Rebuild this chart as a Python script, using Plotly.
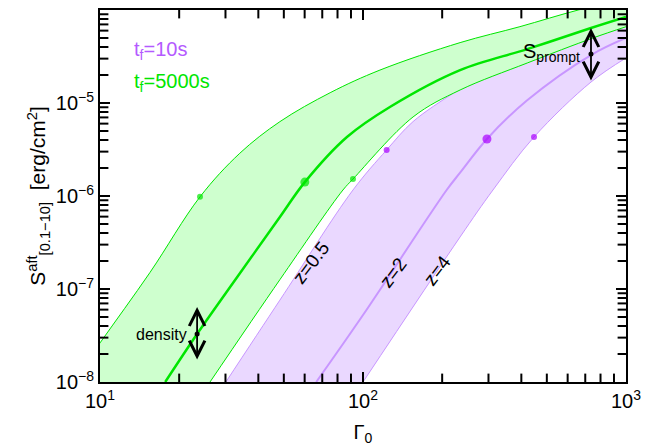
import numpy as np
import plotly.graph_objects as go

# ---- data ----
g_up_x = [7.1, 10, 15.5, 24.0, 34.0, 48.3, 75.0, 116, 234, 395, 658, 1000]
g_up_y = [6.6e-9, 2.63e-8, 1.51e-7, 9.8e-7, 2.88e-6, 6.3e-6, 1.29e-5, 2.26e-5, 4.46e-5, 6.62e-5, 1.0e-4, 1.32e-4]
g_mid_x = [17.7, 23.4, 33.1, 48.3, 60.1, 86.9, 127, 234, 421, 736, 1000]
g_mid_y = [1.0e-8, 3.28e-8, 1.32e-7, 5.94e-7, 1.41e-6, 4.31e-6, 9.12e-6, 2.26e-5, 3.80e-5, 6.40e-5, 8.41e-5]
g_lo_x = [26.2, 48.3, 83.9, 91.6, 155, 234, 421, 750, 1000]
g_lo_y = [1.0e-8, 1.26e-7, 1.16e-6, 1.52e-6, 7.08e-6, 1.38e-5, 2.69e-5, 5.01e-5, 6.61e-5]

p_up_x = [30.1, 48.3, 91.6, 123, 155, 224, 316, 427, 1000]
p_up_y = [1.0e-8, 7.59e-8, 1.16e-6, 3.13e-6, 6.31e-6, 1.32e-5, 2.51e-5, 3.80e-5, 7.59e-5]
p_mid_x = [66.4, 100, 208, 234, 296, 421, 736, 1000]
p_mid_y = [1.0e-8, 5.25e-8, 1.16e-6, 1.78e-6, 4.10e-6, 1.07e-5, 3.28e-5, 5.01e-5]
p_lo_x = [100, 234, 312, 447, 736, 1000]
p_lo_y = [1.0e-8, 3.63e-7, 1.16e-6, 4.31e-6, 1.68e-5, 3.05e-5]

g_dot_x = [24.0, 60.1, 91.6]
g_dot_y = [9.8e-7, 1.41e-6, 1.52e-6]
p_dot_x = [123, 296, 447]
p_dot_y = [3.13e-6, 4.10e-6, 4.31e-6]
dot_sizes = [6, 9, 6]

density_x = 23.4
density_y = [6.4e-8, 3.28e-8, 1.68e-8]
prompt_x = 736
prompt_y = [6.4e-5, 3.36e-5, 1.68e-5]

z_labels = ["z=0.5", "z=2", "z=4"]
z_x = [63.4, 130, 191]
z_y = [1.95e-7, 1.52e-7, 1.6e-7]

x_tickvals = [10, 100, 1000]
x_ticktext = ["10<sup>1</sup>", "10<sup>2</sup>", "10<sup>3</sup>"]
y_tickvals = [1e-8, 1e-7, 1e-6, 1e-5, 1e-4]
y_ticktext = ["10<sup>−8</sup>", "10<sup>−7</sup>", "10<sup>−6</sup>", "10<sup>−5</sup>", "10<sup>−4</sup>"]
x_minor = [k * 10.0 ** d for d in (1, 2) for k in range(2, 10)]
y_minor = [k * 10.0 ** d for d in (-8, -7, -6, -5) for k in range(2, 10)]

# ---- styles ----
GREEN = "rgb(0,230,0)"
GREEN_FILL = "rgb(206,255,206)"
PURPLE = "rgb(200,150,255)"
PURPLE_FILL = "rgb(234,216,255)"
PURPLE_DOT = "rgb(170,0,255)"
PURPLE_TXT = "rgb(180,90,255)"
FONT = "Liberation Sans"
SM = 1.0
X_RANGE, Y_RANGE = [1, 3], [-8, -4]
MAJOR_LEN, MINOR_LEN = 10, 6

fig = go.Figure()
# purple band
fig.add_trace(go.Scatter(x=p_up_x, y=p_up_y, mode="lines", line=dict(color=PURPLE, width=1, shape="spline", smoothing=SM)))
fig.add_trace(go.Scatter(x=p_lo_x, y=p_lo_y, mode="lines", fill="tonexty", fillcolor=PURPLE_FILL,
                         line=dict(color=PURPLE, width=1, shape="spline", smoothing=SM)))
fig.add_trace(go.Scatter(x=p_mid_x, y=p_mid_y, mode="lines", line=dict(color=PURPLE, width=2, shape="spline", smoothing=SM)))
# green band
fig.add_trace(go.Scatter(x=g_up_x, y=g_up_y, mode="lines", line=dict(color=GREEN, width=1, shape="spline", smoothing=SM)))
fig.add_trace(go.Scatter(x=g_lo_x, y=g_lo_y, mode="lines", fill="tonexty", fillcolor=GREEN_FILL,
                         line=dict(color=GREEN, width=1, shape="spline", smoothing=SM)))
fig.add_trace(go.Scatter(x=g_mid_x, y=g_mid_y, mode="lines", line=dict(color=GREEN, width=2.5, shape="spline", smoothing=SM)))
# dots
fig.add_trace(go.Scatter(x=g_dot_x, y=g_dot_y, mode="markers", marker=dict(color=GREEN, size=dot_sizes, line=dict(width=0))))
fig.add_trace(go.Scatter(x=p_dot_x, y=p_dot_y, mode="markers", marker=dict(color=PURPLE_DOT, size=dot_sizes, line=dict(width=0))))
# arrow centre dots
fig.add_trace(go.Scatter(x=[density_x, prompt_x], y=[density_y[1], prompt_y[1]], mode="markers",
                         marker=dict(color="black", size=5)))

# inward minor tick marks on all four sides, as line-shaped markers clipped by the plot area
ymin, ymax = 10.0 ** Y_RANGE[0], 10.0 ** Y_RANGE[1]
xmin, xmax = 10.0 ** X_RANGE[0], 10.0 ** X_RANGE[1]
fig.add_trace(go.Scatter(x=list(x_minor) * 2, y=[ymin] * len(x_minor) + [ymax] * len(x_minor), mode="markers",
                         marker=dict(symbol="line-ns", size=2 * MINOR_LEN, color="black",
                                     line=dict(color="black", width=2)),
                         cliponaxis=True, hoverinfo="skip"))
fig.add_trace(go.Scatter(x=[xmin] * len(y_minor) + [xmax] * len(y_minor), y=list(y_minor) * 2, mode="markers",
                         marker=dict(symbol="line-ew", size=2 * MINOR_LEN, color="black",
                                     line=dict(color="black", width=2)),
                         cliponaxis=True, hoverinfo="skip"))

anns = []
for xv, ys in [(density_x, density_y), (prompt_x, prompt_y)]:
    anns.append(dict(x=np.log10(xv), y=np.log10(ys[0]), ax=np.log10(xv), ay=np.log10(ys[2]),
                     xref="x", yref="y", axref="x", ayref="y", text="", showarrow=True,
                     arrowhead=5, startarrowhead=5, arrowside="end+start", arrowsize=1.7,
                     arrowwidth=1.8, arrowcolor="black", startarrowsize=1.7))
anns.append(dict(x=np.log10(density_x) - 0.03, y=np.log10(density_y[1]), xref="x", yref="y", text="density",
                 showarrow=False, xanchor="right", yanchor="middle", font=dict(size=16, color="black", family=FONT)))
anns.append(dict(x=np.log10(prompt_x) - 0.035, y=np.log10(prompt_y[1]) + 0.02, xref="x", yref="y",
                 text="S<sub>prompt</sub>", showarrow=False, xanchor="right", yanchor="middle",
                 font=dict(size=20, color="black", family=FONT)))
for t, xv, yv in zip(z_labels, z_x, z_y):
    anns.append(dict(x=np.log10(xv), y=np.log10(yv), xref="x", yref="y", text=t, showarrow=False,
                     textangle=-53, font=dict(size=19, color="black", family=FONT)))
anns.append(dict(x=0.06, y=0.892, xref="paper", yref="paper", text="t<sub>f</sub>=10s", showarrow=False,
                 xanchor="left", yanchor="middle", font=dict(size=20, color=PURPLE_TXT, family=FONT)))
anns.append(dict(x=0.06, y=0.806, xref="paper", yref="paper", text="t<sub>f</sub>=5000s", showarrow=False,
                 xanchor="left", yanchor="middle", font=dict(size=20, color=GREEN, family=FONT)))

axis_common = dict(type="log", showline=True, linecolor="black", linewidth=2, mirror="allticks",
                   ticks="inside", ticklen=MAJOR_LEN, tickwidth=2, tickcolor="black",
                   showgrid=False, zeroline=False, automargin=False,
                   tickfont=dict(size=20, color="black", family=FONT))

fig.update_layout(
    width=646, height=447, margin=dict(l=100, r=20, t=10, b=65),
    plot_bgcolor="white", paper_bgcolor="white", showlegend=False,
    annotations=anns,
    xaxis=dict(axis_common, range=X_RANGE, tickmode="array", tickvals=x_tickvals, ticktext=x_ticktext,
               title=dict(text="Γ<sub>0</sub>", font=dict(size=20, color="black", family=FONT), standoff=14)),
    yaxis=dict(axis_common, range=Y_RANGE, tickmode="array", tickvals=y_tickvals, ticktext=y_ticktext,
               title=dict(text="S<sup>aft</sup><sub>[0.1−10]</sub>  [erg/cm<sup>2</sup>]",
                          font=dict(size=21, color="black", family=FONT), standoff=4)),
)
fig.write_html("out.html")
